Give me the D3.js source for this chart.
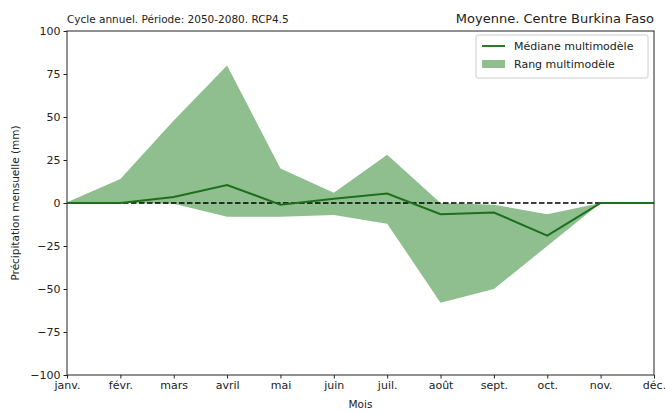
<!DOCTYPE html>
<html><head><meta charset="utf-8">
<script src="https://cdn.jsdelivr.net/npm/d3@7"></script>
<style>body{margin:0;background:#fff}svg{display:block}text{font-family:"DejaVu Sans",sans-serif;fill:#222}</style>
</head><body><svg id="c" width="665" height="412"></svg>
<script>
const months = ["janv.","févr.","mars","avril","mai","juin","juil.","août","sept.","oct.","nov.","déc."];
const median = [0, 0, 3.5, 10.5, -1, 2.5, 5.5, -6.5, -5.5, -19, 0, 0];
const upper  = [0.5, 14, 48, 80, 20, 6, 28, 0, -1, -6.5, 0, 0];
const lower  = [0, 0, -0.5, -8, -8, -7, -12, -58, -50, -25, 0, 0];
const yTicks = [-100, -75, -50, -25, 0, 25, 50, 75, 100];

const svg = d3.select("#c");
const m = {l:67, r:654, t:31, b:375};
const x = d3.scalePoint().domain(months).range([m.l, m.r]);
const y = d3.scaleLinear().domain([-100, 100]).range([m.b, m.t]);

const fillCol = "#8fbf8f", lineCol = "#1d6f1d";
const area = d3.area().x((d,i)=>x(months[i])).y0((d,i)=>y(lower[i])).y1((d,i)=>y(upper[i]));
svg.append("path").datum(months).attr("d", area).attr("fill", fillCol);

svg.append("line").attr("x1", m.l).attr("x2", m.r).attr("y1", y(0)).attr("y2", y(0))
  .attr("stroke", "#000").attr("stroke-width", 1.5).attr("stroke-dasharray", "5.5,2.5");

const line = d3.line().x((d,i)=>x(months[i])).y(d=>y(d));
svg.append("path").datum(median).attr("d", line).attr("fill", "none").attr("stroke", lineCol).attr("stroke-width", 2);

const xa = svg.append("g").attr("transform", `translate(0,${m.b})`).call(d3.axisBottom(x).tickSize(3.5).tickPadding(3));
const ya = svg.append("g").attr("transform", `translate(${m.l},0)`).call(d3.axisLeft(y).tickValues(yTicks).tickSize(3.5).tickPadding(3).tickFormat(d=>d<0?"\u2212"+(-d):d));
[xa, ya].forEach(a=>{a.select(".domain").remove(); a.selectAll("text").attr("font-size", 11).attr("fill","#222").style("font-family","DejaVu Sans"); a.selectAll("line").attr("stroke","#222");});

svg.append("rect").attr("x", m.l).attr("y", m.t).attr("width", m.r-m.l).attr("height", m.b-m.t)
  .attr("fill", "none").attr("stroke", "#222").attr("stroke-width", 1);

svg.append("text").attr("x", m.l).attr("y", 23).attr("font-size", 10.5).text("Cycle annuel. Période: 2050-2080. RCP4.5");
svg.append("text").attr("x", m.r).attr("y", 23).attr("text-anchor", "end").attr("font-size", 13).text("Moyenne. Centre Burkina Faso");
svg.append("text").attr("x", (m.l+m.r)/2).attr("y", 408).attr("text-anchor", "middle").attr("font-size", 10.5).text("Mois");
svg.append("text").attr("transform", `translate(19,${(m.t+m.b)/2}) rotate(-90)`).attr("text-anchor", "middle").attr("font-size", 10.5).text("Précipitation mensuelle (mm)");

const lg = svg.append("g");
lg.append("rect").attr("x", 476).attr("y", 35).attr("width", 172).attr("height", 43).attr("rx", 2)
  .attr("fill", "#fff").attr("fill-opacity", 0.8).attr("stroke", "#ccc");
lg.append("line").attr("x1", 482).attr("x2", 505).attr("y1", 46).attr("y2", 46).attr("stroke", "#2a7a2a").attr("stroke-width", 2);
lg.append("text").attr("x", 514).attr("y", 50).attr("font-size", 11).text("Médiane multimodèle");
lg.append("rect").attr("x", 482).attr("y", 60).attr("width", 23).attr("height", 8).attr("fill", fillCol);
lg.append("text").attr("x", 514).attr("y", 68).attr("font-size", 11).text("Rang multimodèle");
</script></body></html>
